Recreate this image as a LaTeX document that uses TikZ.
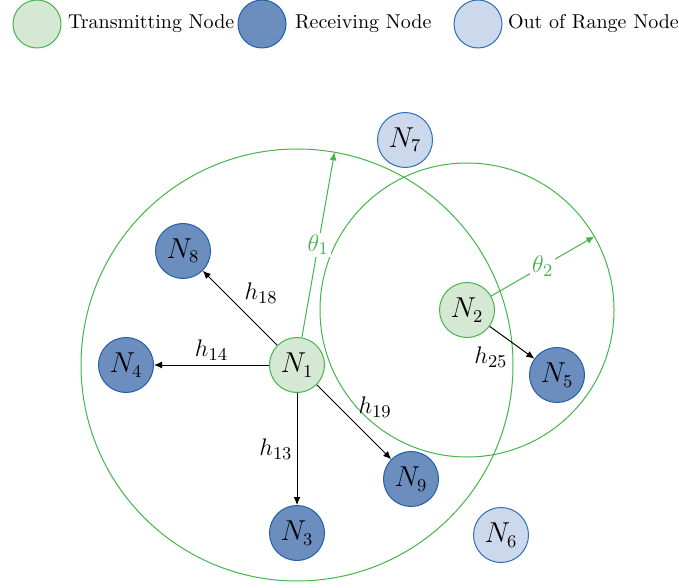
\documentclass[tikz,border=0pt]{standalone}
\usetikzlibrary{arrows.meta, positioning, calc}
\definecolor{tgreen}{HTML}{43B649}
\definecolor{tfill}{HTML}{D5E8D4}
\definecolor{rblue}{HTML}{6C8EBF}
\definecolor{rline}{HTML}{1F5FA8}
\definecolor{ofill}{HTML}{CCD8EC}
\definecolor{oline}{HTML}{2C6DB9}
\tikzset{
  every picture/.style={line width=0.5pt},
  tx/.style={circle, draw=tgreen, fill=tfill, minimum size=27.5pt, inner sep=0pt, font=\fontsize{13.5}{16}\selectfont},
  rx/.style={tx, draw=rline, fill=rblue},
  oor/.style={tx, draw=oline, fill=ofill},
  key/.style={minimum size=24pt},
  keytext/.style={font=\fontsize{10}{12}\selectfont, inner sep=2pt},
  link/.style={-{Latex[length=4pt, width=3.5pt]}},
  hlbl/.style={font=\fontsize{13}{15}\selectfont, inner sep=2pt},
  reach/.style={draw=tgreen},
  beam/.style={-{Latex[length=4pt, width=3.5pt]}, draw=tgreen},
  thlbl/.style={font=\fontsize{13}{15}\selectfont, text=tgreen, fill=white, inner sep=1pt},
}

\begin{document}
\begin{tikzpicture}[x=0.5pt, y=-0.5pt]
  \useasboundingbox (0,0) rectangle (679,588);
  % legend
  \node[tx, key] (k1) at (37,24) {};
  \node[keytext, right=1pt of k1] (k1t) {Transmitting Node};
  \node[rx, key] (k2) at (262,24) {};
  \node[keytext, right=2pt of k2] (k2t) {Receiving Node};
  \node[oor, key] (k3) at (478,24) {};
  \node[keytext, right=0.5pt of k3] (k3t) {Out of Range Node};
  % nodes
  \node[tx] (n1) at (297,365) {$N_1$};
  \node[tx] (n2) at (467,310) {$N_2$};
  \node[rx] (n3) at (297,533) {$N_3$};
  \node[rx] (n4) at (126,365) {$N_4$};
  \node[rx] (n5) at (557,375) {$N_5$};
  \node[oor] (n6) at (501,535) {$N_6$};
  \node[oor] (n7) at (405,140) {$N_7$};
  \node[rx] (n8) at (183,251) {$N_8$};
  \node[rx] (n9) at (411,479) {$N_9$};
  % ranges
  \draw[reach] (n1) circle[radius=108pt];
  \draw[reach] (n2) circle[radius=73.5pt];
  \coordinate (t1) at ($(n1)+(80:108pt)$);
  \coordinate (t2) at ($(n2)+(30:73.5pt)$);
  \draw[beam] (n1) -- node[thlbl] {$\theta_1$} (t1);
  \draw[beam] (n2) -- node[thlbl, pos=0.5] {$\theta_2$} (t2);
  % links
  \draw[link] (n1) -- node[hlbl, above right] {$h_{18}$} (n8);
  \draw[link] (n1) -- node[hlbl, above] {$h_{14}$} (n4);
  \draw[link] (n1) -- node[hlbl, left] {$h_{13}$} (n3);
  \draw[link] (n1) -- node[hlbl, above right] {$h_{19}$} (n9);
  \draw[link] (n2) -- node[hlbl, below left] {$h_{25}$} (n5);
\end{tikzpicture}
\end{document}
